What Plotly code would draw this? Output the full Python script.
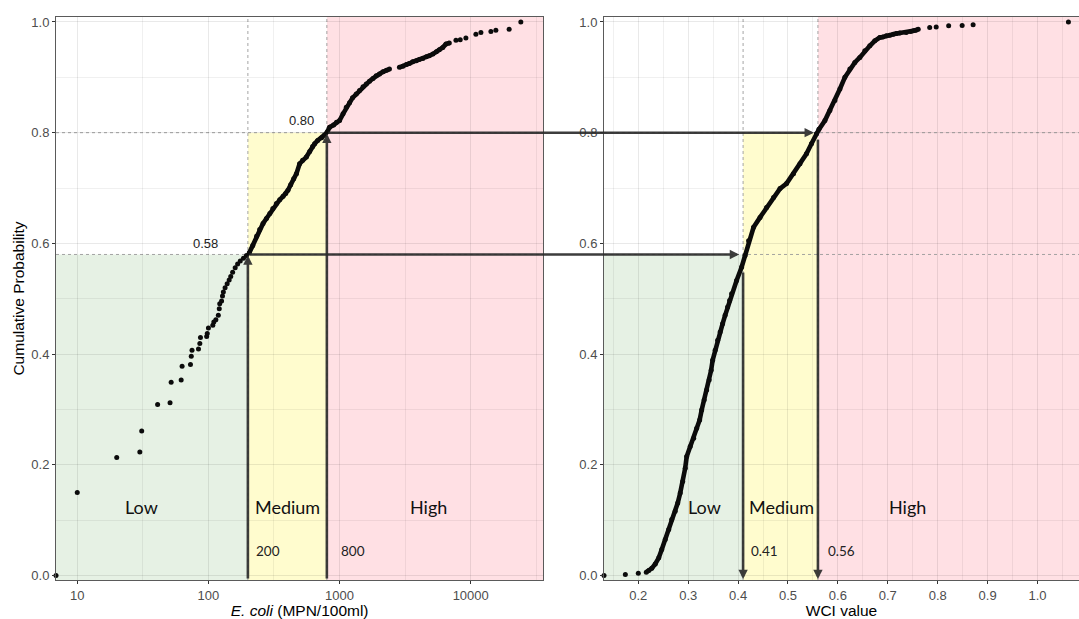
import numpy as np
import plotly.graph_objects as go

# ---------------- data ----------------
ecoli_values = [6.89, 10, 20, 30, 31, 41, 51, 52, 62, 63, 73, 74, 75, 84, 86, 87, 97, 98, 100,
                108, 110, 114, 119, 121, 122, 126, 128, 130, 134, 139, 144, 148, 153, 160, 167,
                175, 185, 195, 205, 218, 233, 246, 261, 277, 294, 310, 330, 350, 371, 389, 404,
                424, 447, 469, 496, 523, 558, 592, 623, 646, 681, 730, 769, 810, 840, 900, 948,
                1000, 1063, 1125, 1192, 1256, 1340, 1420, 1510, 1597, 1692, 1799, 1902, 2015,
                2143, 2277, 2401, 2860, 3040, 3234, 3406, 3609, 3851, 4059, 4315, 4589, 4836,
                5143, 5470, 5760, 6122, 6475, 6866, 7715, 8318, 9187, 10950, 11960, 14250,
                15550, 19630, 24100, 35730]
ecoli_cumprob = [0.0, 0.150, 0.213, 0.223, 0.261, 0.309, 0.312, 0.349, 0.353, 0.378, 0.381,
                 0.396, 0.407, 0.409, 0.419, 0.430, 0.432, 0.437, 0.447, 0.452, 0.458, 0.462,
                 0.470, 0.482, 0.491, 0.496, 0.505, 0.512, 0.520, 0.527, 0.534, 0.540, 0.548,
                 0.556, 0.563, 0.568, 0.573, 0.578, 0.583, 0.596, 0.613, 0.625, 0.636, 0.645,
                 0.654, 0.663, 0.672, 0.679, 0.685, 0.690, 0.696, 0.706, 0.717, 0.726, 0.744,
                 0.750, 0.756, 0.766, 0.775, 0.780, 0.786, 0.791, 0.796, 0.802, 0.810, 0.814,
                 0.819, 0.822, 0.834, 0.846, 0.854, 0.863, 0.870, 0.876, 0.883, 0.888, 0.893,
                 0.898, 0.903, 0.906, 0.910, 0.913, 0.915, 0.918, 0.920, 0.923, 0.925, 0.928,
                 0.930, 0.932, 0.934, 0.937, 0.939, 0.942, 0.946, 0.950, 0.954, 0.960, 0.962,
                 0.967, 0.968, 0.971, 0.978, 0.981, 0.983, 0.985, 0.987, 1.000, 1.000]

wci_values = [0.1313, 0.174, 0.200, 0.216, 0.221, 0.227, 0.234, 0.241, 0.247, 0.254, 0.261,
              0.267, 0.274, 0.279, 0.284, 0.289, 0.294, 0.297, 0.304, 0.311, 0.317, 0.323,
              0.327, 0.332, 0.337, 0.342, 0.346, 0.349, 0.354, 0.359, 0.364, 0.369, 0.374,
              0.379, 0.383, 0.387, 0.397, 0.407, 0.414, 0.421, 0.431, 0.444, 0.457, 0.471,
              0.484, 0.497, 0.511, 0.524, 0.537, 0.547, 0.557, 0.562, 0.574, 0.584, 0.594,
              0.604, 0.614, 0.624, 0.634, 0.644, 0.654, 0.664, 0.674, 0.684, 0.690, 0.697,
              0.704, 0.711, 0.717, 0.724, 0.737, 0.746, 0.751, 0.756, 0.761, 0.784, 0.797,
              0.822, 0.849, 0.871, 1.062]
wci_cumprob = [0.0, 0.002, 0.004, 0.006, 0.009, 0.013, 0.021, 0.032, 0.047, 0.065, 0.083,
               0.101, 0.116, 0.131, 0.149, 0.170, 0.194, 0.215, 0.233, 0.248, 0.266, 0.281,
               0.299, 0.317, 0.335, 0.353, 0.371, 0.389, 0.407, 0.425, 0.440, 0.455, 0.470,
               0.485, 0.497, 0.509, 0.533, 0.557, 0.578, 0.605, 0.629, 0.647, 0.665, 0.683,
               0.699, 0.708, 0.726, 0.744, 0.762, 0.780, 0.798, 0.806, 0.822, 0.840, 0.858,
               0.879, 0.900, 0.915, 0.927, 0.936, 0.948, 0.957, 0.966, 0.972, 0.973, 0.975,
               0.976, 0.978, 0.979, 0.980, 0.981, 0.983, 0.984, 0.985, 0.987, 0.990, 0.991,
               0.993, 0.9935, 0.995, 1.000]

ecoli_thresholds = [200, 800]
wci_thresholds = [0.41, 0.56]
prob_levels = [0.58, 0.80]
wci_arrow_start = [0.55, 0.79]
region_names = ["Low", "Medium", "High"]
ecoli_threshold_labels = ["200", "800"]
wci_threshold_labels = ["0.41", "0.56"]
prob_labels = ["0.58", "0.80"]

ecoli_ticks = [10, 100, 1000, 10000]
ecoli_minor = [3.162, 31.62, 316.2, 3162, 31623]
wci_ticks = [0.2, 0.3, 0.4, 0.5, 0.6, 0.7, 0.8, 0.9, 1.0]
wci_minor = [0.15, 0.25, 0.35, 0.45, 0.55, 0.65, 0.75, 0.85, 0.95, 1.05]
prob_ticks = [0.0, 0.2, 0.4, 0.6, 0.8, 1.0]
prob_minor = [0.1, 0.3, 0.5, 0.7, 0.9]

# spans where the points are so dense that they merge into a solid stroke
ecoli_line_spans = [(205, 2401), (2860, 6866)]
wci_line_spans = [(0.216, 0.761)]

# ---------------- layout constants ----------------
W, H = 1079, 619
ML, MR, MT, MB = 56, 0, 17, 39
DOM1 = [0.0, 0.4763]
DOM2 = [0.5357, 1.0]
XR1 = [0.838, 4.553]          # log10 range
XR2 = [0.1313, 1.0832]
YR = [-0.0081, 1.009]
PW, PH = W - ML - MR, H - MT - MB

ARROW_COL = "rgba(45,45,45,0.92)"
PT_COL = "#0b0b0b"
GRID = "rgba(0,0,0,0.085)"
GRID_MINOR = "rgba(0,0,0,0.06)"
DOT_COL = "#9a9a9a"


def px_left(v):
    f = (np.log10(v) - XR1[0]) / (XR1[1] - XR1[0])
    return ML + PW * (DOM1[0] + f * (DOM1[1] - DOM1[0]))


def px_right(v):
    f = (v - XR2[0]) / (XR2[1] - XR2[0])
    return ML + PW * (DOM2[0] + f * (DOM2[1] - DOM2[0]))


def py(p):
    return MT + PH * (1 - (p - YR[0]) / (YR[1] - YR[0]))


def paper_x(px):
    return (px - ML) / PW


def paper_y(pyv):
    return 1 - (pyv - MT) / PH


def dom_left(v):
    return (np.log10(v) - XR1[0]) / (XR1[1] - XR1[0])


def dom_right(v):
    return (v - XR2[0]) / (XR2[1] - XR2[0])


def span_line(xs, ys, spans):
    lx, ly = [], []
    for a, b in spans:
        for x, y in zip(xs, ys):
            if a <= x <= b:
                lx.append(x)
                ly.append(y)
        lx.append(None)
        ly.append(None)
    return lx, ly


fig = go.Figure()

# dense strokes
lx, ly = span_line(ecoli_values, ecoli_cumprob, ecoli_line_spans)
fig.add_trace(go.Scatter(x=lx, y=ly, mode="lines", line=dict(color=PT_COL, width=4.6),
                         xaxis="x", yaxis="y", hoverinfo="skip", showlegend=False))
lx, ly = span_line(wci_values, wci_cumprob, wci_line_spans)
fig.add_trace(go.Scatter(x=lx, y=ly, mode="lines", line=dict(color=PT_COL, width=4.6),
                         xaxis="x2", yaxis="y2", hoverinfo="skip", showlegend=False))
# points
fig.add_trace(go.Scatter(x=ecoli_values, y=ecoli_cumprob, mode="markers",
                         marker=dict(color=PT_COL, size=5), cliponaxis=False,
                         xaxis="x", yaxis="y", showlegend=False))
fig.add_trace(go.Scatter(x=wci_values, y=wci_cumprob, mode="markers",
                         marker=dict(color=PT_COL, size=5), cliponaxis=False,
                         xaxis="x2", yaxis="y2", showlegend=False))

shapes = []
fills = ["rgb(230,241,228)", "rgb(255,252,206)", "rgb(255,224,228)"]
for xr, yr, dom, thr in [("x domain", "y", dom_left, ecoli_thresholds),
                         ("x2 domain", "y2", dom_right, wci_thresholds)]:
    t1, t2 = dom(thr[0]), dom(thr[1])
    shapes += [
        dict(type="rect", xref=xr, yref=yr, x0=0, x1=t1, y0=YR[0], y1=prob_levels[0],
             fillcolor=fills[0], line=dict(width=0), layer="below"),
        dict(type="rect", xref=xr, yref=yr, x0=t1, x1=t2, y0=YR[0], y1=prob_levels[1],
             fillcolor=fills[1], line=dict(width=0), layer="below"),
        dict(type="rect", xref=xr, yref=yr, x0=t2, x1=1, y0=YR[0], y1=YR[1],
             fillcolor=fills[2], line=dict(width=0), layer="below"),
    ]
    for t in (t1, t2):
        shapes.append(dict(type="line", xref=xr, yref=yr, x0=t, x1=t, y0=YR[0], y1=YR[1],
                           line=dict(color=DOT_COL, width=0.9, dash="dot"), layer="below"))
    for p in prob_levels:
        shapes.append(dict(type="line", xref=xr, yref=yr, x0=0, x1=1, y0=p, y1=p,
                           line=dict(color=DOT_COL, width=0.9, dash="dot"), layer="below"))

annotations = []


def arrow(sx, sy, tx, ty, standoff=0):
    annotations.append(dict(
        xref="paper", yref="paper", x=paper_x(tx), y=paper_y(ty),
        axref="pixel", ayref="pixel", ax=sx - tx, ay=sy - ty, text="", showarrow=True,
        arrowhead=2, arrowsize=0.72, arrowwidth=2.6, arrowcolor=ARROW_COL, standoff=standoff))


# up arrows on the E. coli panel
for thr, p in zip(ecoli_thresholds, prob_levels):
    arrow(px_left(thr), py(YR[0]), px_left(thr), py(p), standoff=1)
# horizontal arrows between panels
for thr_l, thr_r, p in zip(ecoli_thresholds, wci_thresholds, prob_levels):
    arrow(px_left(thr_l), py(p), px_right(thr_r), py(p), standoff=4)
# down arrows on the WCI panel
for thr, p0 in zip(wci_thresholds, wci_arrow_start):
    arrow(px_right(thr), py(p0), px_right(thr), py(YR[0]) - 1, standoff=0)

label_font = dict(family="Lato, 'Noto Sans', sans-serif", size=18, color="#111")
small_font = dict(family="Lato, 'Noto Sans', sans-serif", size=13.5, color="#222")
arial_font = dict(family="'Liberation Sans', Arial, sans-serif", size=13, color="#222")

# region labels
for name, xv in zip(region_names, [30.7, 399, 4753]):
    annotations.append(dict(xref="x", yref="y", x=np.log10(xv), y=0.123, text=name,
                            showarrow=False, font=label_font))
for name, xv in zip(region_names, [0.332, 0.486, 0.739]):
    annotations.append(dict(xref="x2", yref="y2", x=xv, y=0.123, text=name,
                            showarrow=False, font=label_font))
# threshold labels
for lab, xv in zip(ecoli_threshold_labels, [224, 996]):
    annotations.append(dict(xref="x", yref="y", x=np.log10(xv), y=0.045, text=lab,
                            showarrow=False, xanchor="left", font=small_font))
for lab, xv in zip(wci_threshold_labels, [0.422, 0.576]):
    annotations.append(dict(xref="x2", yref="y2", x=xv, y=0.045, text=lab,
                            showarrow=False, xanchor="left", font=small_font))
# probability labels
for lab, xv, yv in zip(prob_labels, [95.5, 516], [0.599, 0.822]):
    annotations.append(dict(xref="x", yref="y", x=np.log10(xv), y=yv, text=lab,
                            showarrow=False, font=arial_font))

tickfont = dict(family="'Liberation Sans', Arial, sans-serif", size=13, color="#4d4d4d")
titlefont = dict(family="'Liberation Sans', Arial, sans-serif", size=15.5, color="#000")
axis_common = dict(showgrid=True, gridcolor=GRID, gridwidth=1, zeroline=False,
                   showline=True, linecolor="#5a5a5a", linewidth=1, ticks="outside",
                   ticklen=3, tickwidth=1, tickcolor="#333", tickfont=tickfont,
                   automargin=False, layer="above traces")

fig.update_layout(
    width=W, height=H, margin=dict(l=ML, r=MR, t=MT, b=MB, autoexpand=False),
    paper_bgcolor="white", plot_bgcolor="white", showlegend=False,
    shapes=shapes, annotations=annotations,
    xaxis=dict(axis_common, type="log", domain=DOM1, range=XR1, anchor="y", mirror=True,
               tickvals=ecoli_ticks, ticktext=[str(v) for v in ecoli_ticks],
               minor=dict(tickvals=ecoli_minor, showgrid=True, gridcolor=GRID_MINOR,
                          gridwidth=0.6, ticks=""),
               title=dict(text="<i>E. coli</i> (MPN/100ml)", font=titlefont, standoff=2)),
    yaxis=dict(axis_common, domain=[0, 1], range=YR, anchor="x", mirror=True,
               tickvals=prob_ticks, tickformat=".1f",
               minor=dict(tickvals=prob_minor, showgrid=True, gridcolor=GRID_MINOR,
                          gridwidth=0.6, ticks=""),
               title=dict(text="Cumulative Probability", font=titlefont, standoff=2)),
    xaxis2=dict(axis_common, domain=DOM2, range=XR2, anchor="y2", mirror=True,
                tickvals=wci_ticks, tickformat=".1f",
                minor=dict(tickvals=wci_minor, showgrid=True, gridcolor=GRID_MINOR,
                           gridwidth=0.6, ticks=""),
                title=dict(text="WCI value", font=titlefont, standoff=2)),
    yaxis2=dict(axis_common, domain=[0, 1], range=YR, anchor="x2", mirror=False,
                tickvals=prob_ticks, tickformat=".1f",
                minor=dict(tickvals=prob_minor, showgrid=True, gridcolor=GRID_MINOR,
                           gridwidth=0.6, ticks="")),
)

fig.write_html(
    "out.html",
    config={"displayModeBar": False},
    post_script="document.body.style.margin='0px';document.body.style.padding='0px';",
)
